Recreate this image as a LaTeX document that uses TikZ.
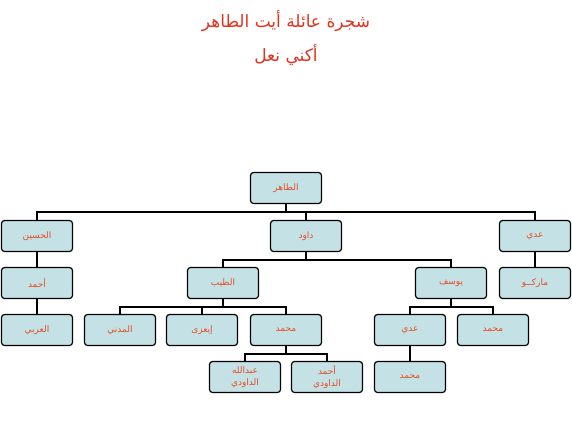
\documentclass[tikz,border=0pt]{standalone}
\usepackage{fontspec}
\TeXXeTstate=1
\newfontfamily\arabicfont[Script=Arabic]{DejaVu Sans}
\definecolor{boxfill}{RGB}{196,226,230}
\definecolor{boxtext}{RGB}{228,78,34}
\definecolor{titlered}{RGB}{226,50,30}
\tikzset{
  person/.style={draw=black, line width=1.2pt, fill=boxfill, rounded corners=3pt,
    minimum width=71pt, minimum height=31pt, inner sep=1pt, align=center,
    text=boxtext, font=\arabicfont\fontsize{9}{12}\selectfont},
  link/.style={draw=black, line width=1.8pt},
  titletext/.style={text=titlered, font=\arabicfont\fontsize{17}{20}\selectfont}
}
\newcommand{\ar}[1]{\beginR #1\endR}
\begin{document}
\begin{tikzpicture}[x=1pt,y=-1pt]
\useasboundingbox (0,0) rectangle (572,429);
\node[titletext] (t1) at (286,21) {\ar{شجرة عائلة أيت الطاهر}};
\node[titletext] (t2) at (286,55) {\ar{أكني نعل}};

\node[person] (taher) at (286,188) {\ar{الطاهر}};
\node[person] (hussein) at (37,236) {\ar{الحسين}};
\node[person] (dawud) at (306,236) {\ar{داود}};
\node[person] (adi1) at (535,236) {\ar{عدي}};
\node[person] (ahmad1) at (37,283) {\ar{أحمد}};
\node[person] (marko) at (535,283) {\ar{ماركــو}};
\node[person] (tayeb) at (223,283) {\ar{الطيب}};
\node[person] (yusuf) at (451,283) {\ar{يوسف}};
\node[person] (arbi) at (37,330) {\ar{العربي}};
\node[person] (madani) at (120,330) {\ar{المدني}};
\node[person] (iazza) at (202,330) {\ar{إيعزى}};
\node[person] (moh1) at (286,330) {\ar{محمد}};
\node[person] (adi2) at (410,330) {\ar{عدي}};
\node[person] (moh2) at (493,330) {\ar{محمد}};
\node[person] (abd) at (245,377) {\ar{عبدالله}\\\ar{الداودي}};
\node[person] (ahmad2) at (327,377) {\ar{أحمد}\\\ar{الداودي}};
\node[person] (moh3) at (410,377) {\ar{محمد}};

\foreach \p/\c in {taher/hussein, taher/dawud, taher/adi1,
  dawud/tayeb, dawud/yusuf,
  tayeb/madani, tayeb/iazza, tayeb/moh1,
  yusuf/adi2, yusuf/moh2,
  moh1/abd, moh1/ahmad2}
  \draw[link] (\p.south) -- ++(0,8) -| (\c.north);
\foreach \p/\c in {hussein/ahmad1, adi1/marko, ahmad1/arbi, adi2/moh3}
  \draw[link] (\p.south) -- (\c.north);
\end{tikzpicture}
\end{document}
